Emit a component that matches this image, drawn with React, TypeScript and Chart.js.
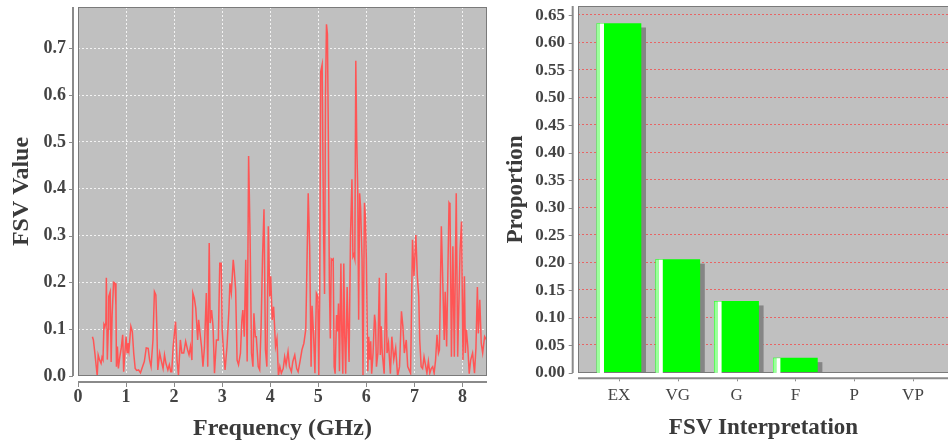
import React, { useEffect, useRef } from 'react';
import { Chart, registerables } from 'chart.js';

Chart.register(...registerables);

const SERIF = "'Liberation Serif', 'Times New Roman', serif";

// ---- Left panel: FSV value vs frequency (GHz) ----
const FSV_0_TO_1: [number, number][] = [
  [0.30, 0.084], [0.32, 0.077], [0.35, 0.05], [0.37, 0.03], [0.40, 0.0], [0.42, 0.045],
  [0.45, 0.034], [0.48, 0.027], [0.50, 0.04], [0.52, 0.035], [0.54, 0.11], [0.56, 0.105],
  [0.58, 0.115], [0.59, 0.21], [0.61, 0.035], [0.63, 0.10], [0.64, 0.17], [0.67, 0.18],
  [0.69, 0.03], [0.71, 0.13], [0.74, 0.20], [0.77, 0.198], [0.79, 0.15], [0.80, 0.02],
  [0.82, 0.063], [0.84, 0.016], [0.87, 0.041], [0.90, 0.06], [0.93, 0.088], [0.95, 0.009],
  [0.98, 0.056], [1.00, 0.084],
];
const FSV_1_TO_2: [number, number][] = [
  [1.02, 0.05], [1.04, 0.07], [1.06, 0.055], [1.10, 0.106], [1.13, 0.095], [1.16, 0.048],
  [1.19, 0.016], [1.22, 0.012], [1.26, 0.013], [1.30, 0.007], [1.33, 0.016], [1.38, 0.031],
  [1.42, 0.06], [1.46, 0.059], [1.49, 0.034], [1.52, 0.02], [1.56, 0.077], [1.59, 0.18],
  [1.62, 0.173], [1.64, 0.106], [1.66, 0.013], [1.70, 0.049], [1.73, 0.034], [1.77, 0.016],
  [1.80, 0.045], [1.83, 0.027], [1.87, 0.013], [1.90, 0.024], [1.93, 0.009], [1.95, 0.009],
  [1.98, 0.063],
];
const FSV_2_TO_3: [number, number][] = [
  [2.03, 0.116], [2.06, 0.034], [2.09, 0.002], [2.13, 0.077], [2.16, 0.049], [2.20, 0.049],
  [2.24, 0.074], [2.28, 0.056], [2.31, 0.045], [2.34, 0.063], [2.37, 0.034], [2.39, 0.177],
  [2.42, 0.166], [2.45, 0.145], [2.47, 0.113], [2.49, 0.077], [2.51, 0.12], [2.54, 0.091],
  [2.57, 0.063], [2.60, 0.02], [2.63, 0.06], [2.67, 0.177], [2.70, 0.02], [2.73, 0.284],
  [2.75, 0.113], [2.78, 0.141], [2.81, 0.106], [2.84, 0.006], [2.88, 0.077], [2.92, 0.077],
  [2.95, 0.241], [2.98, 0.241], [3.00, 0.098],
];
const FSV_3_TO_4: [number, number][] = [
  [3.03, 0.049], [3.06, 0.013], [3.10, 0.063], [3.14, 0.14], [3.16, 0.198], [3.19, 0.177],
  [3.23, 0.248], [3.25, 0.227], [3.28, 0.184], [3.31, 0.034], [3.34, 0.024], [3.38, 0.049],
  [3.41, 0.12], [3.43, 0.141], [3.46, 0.084], [3.49, 0.248], [3.52, 0.031], [3.55, 0.47],
  [3.58, 0.30], [3.61, 0.049], [3.64, 0.02], [3.66, 0.134], [3.69, 0.084], [3.71, 0.084],
  [3.75, 0.02], [3.78, 0.013], [3.81, 0.106], [3.84, 0.255], [3.87, 0.356], [3.90, 0.056],
  [3.93, 0.02], [3.96, 0.32], [3.99, 0.17], [4.01, 0.213], [4.04, 0.12], [4.07, 0.148],
  [4.11, 0.063], [4.14, 0.08],
];
const FSV_4_TO_5: [number, number][] = [
  [4.17, 0.0], [4.20, 0.02], [4.23, 0.006], [4.27, 0.016], [4.30, 0.041], [4.33, 0.024],
  [4.37, 0.052], [4.40, 0.02], [4.44, 0.009], [4.47, 0.031], [4.51, 0.045], [4.55, 0.016],
  [4.58, 0.009], [4.62, 0.031], [4.66, 0.056], [4.70, 0.07], [4.74, 0.10], [4.79, 0.39],
  [4.82, 0.277], [4.85, 0.02], [4.87, 0.15], [4.90, 0.091], [4.93, 0.006], [4.96, 0.177],
  [4.99, 0.17], [5.01, 0.0],
];
const FSV_5_TO_6: [number, number][] = [
  [5.03, 0.18], [5.05, 0.65], [5.08, 0.665], [5.11, 0.30], [5.13, 0.175], [5.15, 0.60],
  [5.17, 0.751], [5.19, 0.73], [5.21, 0.50], [5.23, 0.20], [5.25, 0.08], [5.27, 0.25],
  [5.29, 0.248], [5.31, 0.25], [5.33, 0.02], [5.35, 0.005], [5.38, 0.13], [5.40, 0.095],
  [5.42, 0.155], [5.44, 0.01], [5.47, 0.24], [5.49, 0.085], [5.51, 0.005], [5.53, 0.24],
  [5.55, 0.085], [5.57, 0.005], [5.60, 0.19], [5.62, 0.10], [5.64, 0.03], [5.67, 0.30],
  [5.70, 0.42], [5.72, 0.255], [5.74, 0.26], [5.76, 0.25], [5.78, 0.673], [5.80, 0.50],
  [5.82, 0.40], [5.84, 0.12], [5.86, 0.39], [5.88, 0.36], [5.91, 0.25], [5.93, 0.0],
  [5.96, 0.37], [5.98, 0.34], [6.00, 0.25],
];
const FSV_6_TO_7: [number, number][] = [
  [6.03, 0.01], [6.05, 0.084], [6.07, 0.035], [6.09, 0.074], [6.11, 0.005], [6.14, 0.05],
  [6.17, 0.131], [6.19, 0.113], [6.21, 0.02], [6.24, 0.05], [6.27, 0.21], [6.29, 0.045],
  [6.31, 0.106], [6.33, 0.05], [6.37, 0.005], [6.41, 0.22], [6.43, 0.049], [6.46, 0.07],
  [6.50, 0.005], [6.53, 0.084], [6.57, 0.035], [6.61, 0.06], [6.65, 0.0], [6.69, 0.02],
  [6.73, 0.138], [6.76, 0.106], [6.79, 0.049], [6.83, 0.077], [6.86, 0.02], [6.89, 0.013],
  [6.92, 0.006], [6.96, 0.291], [6.99, 0.213], [7.03, 0.301], [7.06, 0.213], [7.09, 0.17],
  [7.11, 0.077],
];
const FSV_7_TO_8_5: [number, number][] = [
  [7.14, 0.02], [7.17, 0.016], [7.20, 0.041], [7.23, 0.024], [7.26, 0.006], [7.29, 0.031],
  [7.32, 0.006], [7.35, 0.016], [7.38, 0.02], [7.41, 0.006], [7.44, 0.034], [7.47, 0.088],
  [7.50, 0.049], [7.52, 0.056], [7.56, 0.32], [7.58, 0.241], [7.62, 0.077], [7.64, 0.18],
  [7.67, 0.063], [7.72, 0.37], [7.74, 0.366], [7.77, 0.041], [7.80, 0.277], [7.83, 0.041],
  [7.87, 0.39], [7.90, 0.041], [7.95, 0.27], [7.98, 0.33], [8.01, 0.034], [8.04, 0.213],
  [8.06, 0.049], [8.08, 0.099], [8.11, 0.063], [8.14, 0.005], [8.17, 0.034], [8.21, 0.049],
  [8.25, 0.006], [8.28, 0.06], [8.31, 0.19], [8.33, 0.091], [8.36, 0.163], [8.39, 0.07],
  [8.42, 0.049], [8.46, 0.084], [8.50, 0.077],
];
const FSV_POINTS = [
  ...FSV_0_TO_1, ...FSV_1_TO_2, ...FSV_2_TO_3, ...FSV_3_TO_4,
  ...FSV_4_TO_5, ...FSV_5_TO_6, ...FSV_6_TO_7, ...FSV_7_TO_8_5,
];

// ---- Right panel: proportion per FSV interpretation ----
const INTERPRETATIONS = ['EX', 'VG', 'G', 'F', 'P', 'VP'];
const PROPORTIONS = [0.635, 0.206, 0.13, 0.027, 0, 0];

const TICK_COLOR = '#444444';
const TITLE_COLOR = '#3a3a3a';

const framePlugin: any = {
  id: 'jfreeFrame',
  beforeDraw(chart: any, _a: any, opts: any) {
    const { ctx, chartArea: a } = chart;
    ctx.save();
    ctx.fillStyle = opts.background;
    ctx.fillRect(a.left, a.top, a.right - a.left, a.bottom - a.top);
    ctx.restore();
  },
  beforeDatasetsDraw(chart: any, _a: any, opts: any) {
    if (!opts.hGridColor) return;
    const { ctx, chartArea: a, scales } = chart;
    ctx.save();
    ctx.strokeStyle = opts.hGridColor;
    ctx.lineWidth = 1;
    ctx.setLineDash(opts.hGridDash);
    scales.y.ticks.forEach((t: any) => {
      const p = Math.round(scales.y.getPixelForValue(t.value)) - 0.5;
      ctx.beginPath();
      ctx.moveTo(a.left, p);
      ctx.lineTo(a.right, p);
      ctx.stroke();
    });
    ctx.restore();
  },
  afterDatasetsDraw(chart: any, _a: any, opts: any) {
    const { ctx, chartArea: a, scales } = chart;
    ctx.save();
    ctx.strokeStyle = opts.outline;
    ctx.lineWidth = 1;
    ctx.strokeRect(a.left + 0.5, a.top + 0.5, a.right - a.left - 1, a.bottom - a.top - 1);
    ctx.strokeStyle = opts.axisColor;
    ctx.lineWidth = opts.axisWidth;
    const yx = a.left - opts.gapY;
    ctx.beginPath();
    ctx.moveTo(yx, a.top);
    ctx.lineTo(yx, a.bottom);
    ctx.stroke();
    const xy = a.bottom + opts.gapX;
    ctx.beginPath();
    ctx.moveTo(a.left, xy);
    ctx.lineTo(a.right, xy);
    ctx.stroke();
    ctx.lineWidth = 1;
    scales.y.ticks.forEach((t: any) => {
      const p = Math.round(scales.y.getPixelForValue(t.value)) + 0.5;
      ctx.beginPath();
      ctx.moveTo(yx - opts.tickLen, p);
      ctx.lineTo(yx, p);
      ctx.stroke();
    });
    scales.x.ticks.forEach((t: any) => {
      const p = Math.round(scales.x.getPixelForValue(t.value)) + 0.5;
      ctx.beginPath();
      ctx.moveTo(p, xy + 1);
      ctx.lineTo(p, xy + 1 + opts.tickLenX);
      ctx.stroke();
    });
    ctx.restore();
  },
};

const barGlossPlugin: any = {
  id: 'barGloss',
  beforeDatasetsDraw(chart: any) {
    const { ctx, chartArea: a } = chart;
    const meta = chart.getDatasetMeta(0);
    ctx.save();
    ctx.beginPath();
    ctx.rect(a.left, a.top, a.right - a.left, a.bottom - a.top);
    ctx.clip();
    ctx.fillStyle = '#858585';
    meta.data.forEach((bar: any) => {
      const { x, y, base, width } = bar.getProps(['x', 'y', 'base', 'width'], true);
      if (base - y < 0.5) return;
      ctx.fillRect(x - width / 2 + 5, y + 4, width, base - y - 4);
    });
    ctx.restore();
  },
  afterDatasetsDraw(chart: any) {
    const { ctx } = chart;
    const meta = chart.getDatasetMeta(0);
    ctx.save();
    meta.data.forEach((bar: any) => {
      const { x, y, base, width } = bar.getProps(['x', 'y', 'base', 'width'], true);
      if (base - y < 0.5) return;
      const left = x - width / 2;
      ctx.fillStyle = '#9cff9c';
      ctx.fillRect(left, y, 3, base - y);
      ctx.fillStyle = '#ffffff';
      ctx.fillRect(left + 3, y, 4, base - y);
    });
    ctx.restore();
  },
};

const fixX = (h: number) => (s: any) => {
  s.height = h;
  s.paddingLeft = 0;
  s.paddingRight = 0;
  s.paddingTop = 0;
  s.paddingBottom = 0;
};
const fixY = (w: number) => (s: any) => {
  s.width = w;
  s.paddingLeft = 0;
  s.paddingRight = 0;
  s.paddingTop = 0;
  s.paddingBottom = 0;
};

export default function App() {
  const leftRef = useRef<HTMLCanvasElement>(null);
  const rightRef = useRef<HTMLCanvasElement>(null);

  useEffect(() => {
    const tickFont = { family: SERIF, size: 18, weight: 'bold' as const };
    const left = new Chart(leftRef.current as HTMLCanvasElement, {
      type: 'line',
      data: {
        datasets: [
          {
            data: FSV_POINTS.map(([f, v]) => ({ x: f, y: v })),
            borderColor: '#FF5555',
            borderWidth: 1.5,
            pointRadius: 0,
            tension: 0,
            fill: false,
          },
        ],
      },
      options: {
        animation: false,
        responsive: false,
        maintainAspectRatio: false,
        events: [],
        layout: { padding: { top: 7, right: 3, bottom: 0, left: 0 } },
        plugins: {
          legend: { display: false },
          tooltip: { enabled: false },
          jfreeFrame: {
            background: '#C0C0C0', outline: '#7a7a7a', axisColor: '#8a8a8a', axisWidth: 2,
            gapX: 6, gapY: 5, tickLen: 4, tickLenX: 4,
          },
        } as any,
        scales: {
          x: {
            type: 'linear',
            min: 0,
            max: 8.51,
            afterFit: fixX(70),
            grid: { color: 'rgba(255,255,255,0.8)', lineWidth: 1, drawTicks: false },
            border: { display: false, dash: [2, 2] },
            ticks: {
              stepSize: 1, includeBounds: false, padding: 10.6, font: tickFont, color: TICK_COLOR,
              maxRotation: 0, autoSkip: false, callback: (v: any) => String(v),
            },
            title: {
              display: true, text: 'Frequency (GHz)', color: TITLE_COLOR,
              font: { family: SERIF, size: 24, weight: 'bold' }, padding: { top: 0, bottom: 3 },
            },
          },
          y: {
            type: 'linear',
            min: 0,
            max: 0.788,
            afterFit: fixY(78),
            grid: { color: 'rgba(255,255,255,0.8)', lineWidth: 1, drawTicks: false },
            border: { display: false, dash: [2, 2] },
            ticks: {
              stepSize: 0.1, includeBounds: false, padding: 12, font: tickFont, color: TICK_COLOR,
              callback: (v: any) => Number(v).toFixed(1),
            },
            title: {
              display: true, text: 'FSV Value', color: TITLE_COLOR,
              font: { family: SERIF, size: 24, weight: 'bold' }, padding: { top: 7, bottom: 0 },
            },
          },
        },
      },
      plugins: [framePlugin],
    } as any);

    const right = new Chart(rightRef.current as HTMLCanvasElement, {
      type: 'bar',
      data: {
        datasets: [
          {
            data: PROPORTIONS.map((p, i) => ({ x: i, y: p })),
            backgroundColor: '#00FF00',
            borderWidth: 0,
            barThickness: 44,
          },
        ],
      },
      options: {
        animation: false,
        responsive: false,
        maintainAspectRatio: false,
        events: [],
        layout: { padding: { top: 6, right: 1, bottom: 0, left: 0 } },
        plugins: {
          legend: { display: false },
          tooltip: { enabled: false },
          jfreeFrame: {
            background: '#C0C0C0', outline: '#7a7a7a', axisColor: '#8a8a8a', axisWidth: 2,
            gapX: 5.3, gapY: 5.3, tickLen: 4, tickLenX: 2,
            hGridColor: '#E86464', hGridDash: [2, 2],
          },
        } as any,
        scales: {
          x: {
            type: 'linear',
            offset: false,
            min: -0.697,
            max: 5.6125,
            afterBuildTicks: (s: any) => {
              s.ticks = INTERPRETATIONS.map((_, i) => ({ value: i }));
            },
            afterFit: fixX(73),
            grid: { display: false, drawTicks: false, offset: false },
            border: { display: false },
            ticks: {
              padding: 12.8, autoSkip: false, maxRotation: 0,
              font: { family: SERIF, size: 17 }, color: TICK_COLOR,
              callback: (v: any) => INTERPRETATIONS[Math.round(Number(v))] ?? '',
            },
            title: {
              display: true, text: 'FSV Interpretation', color: TITLE_COLOR,
              font: { family: SERIF, size: 23, weight: 'bold' }, padding: { top: 0, bottom: 4 },
            },
          },
          y: {
            type: 'linear',
            min: 0,
            max: 0.6668,
            afterFit: fixY(88),
            grid: { display: false, drawTicks: false },
            border: { display: false },
            ticks: {
              stepSize: 0.05, includeBounds: false, padding: 13,
              font: { family: SERIF, size: 17, weight: 'bold' }, color: TICK_COLOR,
              callback: (v: any) => Number(v).toFixed(2),
            },
            title: {
              display: true, text: 'Proportion', color: TITLE_COLOR,
              font: { family: SERIF, size: 23, weight: 'bold' }, padding: { top: 11.9, bottom: 0 },
            },
          },
        },
      },
      plugins: [framePlugin, barGlossPlugin],
    } as any);

    return () => {
      left.destroy();
      right.destroy();
    };
  }, []);

  return (
    <div
      style={{
        position: 'fixed', left: 0, top: 0, width: 948, height: 446,
        overflow: 'hidden', background: '#ffffff',
      }}
    >
      <canvas ref={leftRef} width={490} height={446} style={{ position: 'absolute', left: 0, top: 0 }} />
      <canvas ref={rightRef} width={460} height={446} style={{ position: 'absolute', left: 490, top: 0 }} />
    </div>
  );
}
